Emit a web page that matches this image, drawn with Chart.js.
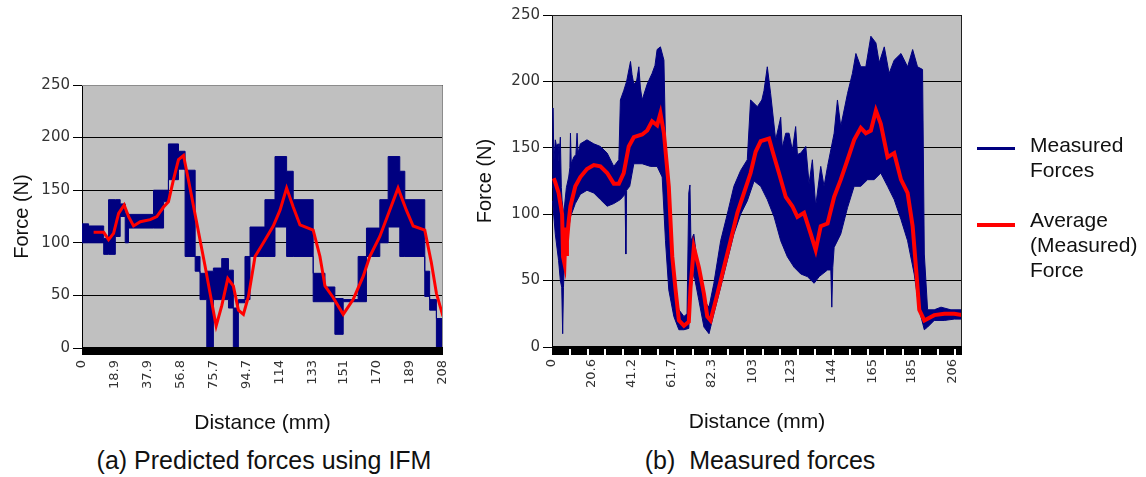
<!DOCTYPE html>
<html lang="en">
<head>
<meta charset="utf-8" />
<title>Predicted and measured forces</title>
<style>
  body { margin: 0; background: #fff; font-family: "Liberation Sans", Arial, sans-serif; color: #111; }
  .page { position: relative; width: 1146px; height: 477px; overflow: hidden; }
  .box { position: absolute; }
  #boxA { left: 0; top: 60px; width: 460px; height: 380px; }
  #boxB { left: 460px; top: 0; width: 520px; height: 440px; }
  .caption { position: absolute; top: 445px; font-size: 25px; line-height: 30px; white-space: pre; transform: translateX(-50%); }
  .swatch { position: absolute; left: 977px; width: 38px; }
  .legend-text { position: absolute; left: 1030px; font-size: 21px; line-height: 25px; }
</style>
</head>
<body>
<div class="page">
  <div class="box" id="boxA"><canvas id="chartA"></canvas></div>
  <div class="box" id="boxB"><canvas id="chartB"></canvas></div>

  <div class="swatch" style="top:147px;height:3px;background:#000080"></div>
  <div class="legend-text" style="top:132px">Measured<br>Forces</div>
  <div class="swatch" style="top:223px;height:4px;background:#ff0000"></div>
  <div class="legend-text" style="top:207px">Average<br>(Measured)<br>Force</div>

  <div class="caption" style="left:264px">(a) Predicted forces using IFM</div>
  <div class="caption" style="left:760px">(b)  Measured forces</div>
</div>

<script src="https://cdn.jsdelivr.net/npm/chart.js"></script>
<script>
    const forceMax = 250;

    // (a) predicted forces: stepped band (start of each step, upper/lower level) and its average
    const distTicksA = ['0', '18.9', '37.9', '56.8', '75.7', '94.7', '114', '133', '151', '170', '189', '208'];
    const stepDistA = [0, 3.8, 12.5, 15.3, 19.2, 22, 24.9, 26.8, 41.2, 47, 49.8, 55.6, 59.4, 65.2, 68,
        71.9, 75.7, 80.5, 84.4, 87.2, 90.1, 93.9, 96.8, 105.4, 111.2, 117.9, 121.7, 133.2, 140, 145.7,
        150.5, 159.1, 163.9, 171.6, 176.4, 183.1, 186, 197.5, 200.3, 204.2, 208];
    const stepUpperA = [118, 116, 104, 141, 141, 137, 128, 127, 150, 150, 194, 187, 169, 87, 71,
        73, 76, 85, 74, 38, 46, 87, 115, 141, 182, 168, 141, 71, 58, 47,
        46, 87, 114, 141, 182, 168, 141, 73, 46, 28, 28];
    const stepLowerA = [100, 100, 89, 89, 106, 125, 100, 114, 114, 139, 160, 170, 87, 73, 46,
        0, 46, 46, 38, 0, 43, 46, 87, 87, 115, 87, 87, 44, 44, 13,
        44, 44, 87, 100, 115, 87, 87, 49, 36, 0, 0];
    const avgDistA = [6.7, 12.5, 15.3, 18.2, 21.1, 24.3, 26.8, 29.7, 33.6, 39.3, 43.1, 47, 49.8, 52.7, 55.6,
        58.5, 61.3, 66.1, 70.9, 74.8, 77.3, 80.5, 84, 87.2, 90.1, 93, 95.9, 99.7, 104.5, 110.2,
        114.1, 117.9, 121.7, 125.6, 133.2, 137.1, 140, 144.7, 150.5, 156.2, 162, 165.8, 171.6, 177.3, 182.1,
        186.9, 190.8, 197.5, 201.3, 204.2, 208];
    const avgForceA = [110, 110, 103, 109, 128, 136, 125, 116, 120, 122, 125, 134, 139, 160, 179,
        183, 160, 119, 78, 43, 21, 40, 66, 59, 36, 32, 49, 87, 100, 116,
        131, 152, 134, 117, 112, 87, 59, 48, 32, 46, 68, 87, 106, 131, 152,
        131, 116, 112, 81, 52, 30];

    // (b) measured forces: envelope of the raw signal and the running average
    const distTicksB = ['0', '20.6', '41.2', '61.7', '82.3', '103', '123', '144', '165', '185', '206'];
    const upperDistB = [0.3, 0.5, 1.0, 1.7, 2.5, 3.1, 3.6, 4.3, 4.8, 5.2, 6.0, 7.4, 8.6, 9.2, 9.5,
        9.9, 11.2, 12.3, 12.9, 13.4, 14.6, 18.0, 21.5, 24.9, 28.4, 31.8, 34.4, 35.2, 36.9, 38.4,
        40.4, 41.2, 42.1, 43.5, 44.7, 45.5, 46.4, 49.0, 51.5, 53.0, 54.1, 55.8, 57.6, 58.4, 60.1,
        61.9, 63.6, 65.3, 67.9, 69.5, 70.4, 71.0, 71.5, 73.0, 75.6, 78.2, 80.8, 83.3, 86.8, 90.2,
        93.6, 97.1, 100.5, 102.2, 105.7, 108.0, 109.1, 110.8, 112.5, 115.1, 116.5, 117.7, 118.5, 120.3, 122.0,
        123.7, 125.4, 126.3, 128.0, 130.6, 132.3, 134.0, 135.7, 138.3, 140.0, 141.8, 145.2, 146.9, 148.6, 152.1,
        154.6, 156.4, 158.9, 161.5, 164.1, 166.7, 168.4, 171.0, 173.5, 176.1, 179.6, 183.0, 185.6, 188.1, 190.7,
        191.6, 193.3, 196.7, 200.2, 205.3, 211];
    const upperB = [120, 180, 140, 156, 150, 153, 140, 158, 120, 110, 100, 120, 128, 135, 161,
        138, 143, 145, 161, 146, 153, 156, 153, 151, 146, 136, 141, 186, 193, 200,
        215, 205, 198, 200, 211, 195, 186, 198, 206, 212, 224, 226, 216, 156, 110,
        73, 40, 28, 23, 25, 116, 122, 80, 85, 53, 35, 30, 48, 80, 100,
        121, 133, 141, 186, 181, 186, 193, 211, 191, 156, 165, 173, 150, 161, 161,
        148, 166, 145, 146, 151, 123, 141, 106, 136, 121, 136, 161, 186, 166, 191,
        206, 221, 211, 211, 234, 229, 214, 226, 206, 216, 221, 211, 224, 211, 209,
        70, 28, 28, 30, 28, 28];
    const lowerDistB = [0.3, 1.7, 3.4, 4.3, 5.0, 5.5, 5.9, 6.4, 7.7, 9.5, 12.0, 14.6, 18.0, 21.5, 24.9,
        28.4, 31.8, 35.2, 37.6, 38.0, 38.4, 40.0, 42.1, 46.4, 50.7, 54.1, 56.7, 58.4, 60.1, 62.7,
        65.3, 67.9, 70.4, 71.3, 73.0, 75.6, 78.2, 80.8, 83.3, 86.8, 90.2, 93.6, 97.1, 100.5, 104.0,
        107.4, 110.8, 114.3, 117.7, 121.1, 124.6, 128.0, 131.4, 134.9, 137.5, 141.8, 143.5, 144.0, 144.5, 145.2,
        148.6, 152.1, 155.5, 158.9, 162.4, 165.8, 169.2, 172.7, 176.1, 179.6, 183.0, 186.4, 189.0, 191.6, 193.3,
        196.7, 201.9, 207.0, 211];
    const lowerB = [110, 85, 65, 50, 45, 10, 45, 63, 80, 98, 108, 115, 118, 116, 111,
        106, 108, 111, 115, 70, 118, 121, 138, 138, 136, 136, 128, 80, 43, 23,
        13, 13, 14, 45, 55, 35, 15, 10, 25, 45, 65, 85, 100, 110, 125,
        121, 111, 98, 80, 68, 60, 55, 53, 48, 53, 58, 58, 30, 60, 75,
        85, 105, 121, 121, 126, 126, 131, 121, 111, 96, 80, 55, 28, 13, 15,
        20, 20, 21, 21];
    const avgDistB = [0.9, 1.7, 3.4, 5.2, 5.7, 6.4, 7.0, 7.4, 7.7, 8.6, 9.5, 12.0, 14.6, 18.0, 21.5,
        24.9, 28.4, 31.8, 34.4, 36.9, 39.5, 42.1, 46.4, 49.0, 51.5, 54.1, 55.8, 57.6, 60.1, 61.9,
        63.6, 65.3, 67.9, 70.4, 71.3, 73.0, 75.6, 78.2, 79.9, 81.6, 85.1, 88.5, 91.9, 95.4, 98.8,
        102.2, 104.8, 107.4, 111.7, 113.4, 116.8, 120.3, 123.7, 126.3, 129.7, 133.2, 135.7, 138.3, 141.8, 145.2,
        148.6, 152.1, 155.5, 158.9, 161.5, 164.1, 166.7, 169.2, 172.7, 176.1, 179.6, 183.0, 185.6, 187.3, 189.0,
        191.6, 196.7, 201.9, 207.0, 211];
    const avgForceB = [127, 124, 116, 100, 68, 63, 90, 70, 80, 95, 106, 121, 128, 134, 137,
        136, 131, 123, 123, 131, 151, 158, 160, 163, 170, 167, 176, 161, 121, 68,
        43, 20, 16, 19, 45, 75, 60, 40, 23, 20, 40, 60, 80, 101, 116,
        131, 147, 155, 157, 148, 131, 113, 106, 98, 101, 85, 73, 91, 93, 113,
        126, 141, 156, 165, 161, 163, 178, 168, 143, 146, 126, 116, 91, 60, 28,
        20, 24, 25, 25, 24];

    const navy = '#000080';
    const red = '#ff0000';

    const pts = (xs, ys) => xs.map((x, i) => ({ x, y: ys[i] }));

    // grey plot area, frame and the black category-tick strip under the x axis
    const plotFrame = {
        id: 'plotFrame',
        beforeDraw(chart) {
            const a = chart.chartArea, ctx = chart.ctx;
            ctx.save();
            ctx.fillStyle = '#c0c0c0';
            ctx.fillRect(a.left, a.top, a.right - a.left, a.bottom - a.top);
            ctx.restore();
        },
        afterDatasetsDraw(chart, args, opts) {
            const a = chart.chartArea, ctx = chart.ctx, xs = chart.scales.x;
            ctx.save();
            ctx.strokeStyle = opts.frameColor;
            ctx.lineWidth = 1;
            ctx.beginPath();
            ctx.moveTo(a.left, a.top + 0.5);
            ctx.lineTo(a.right - 0.5, a.top + 0.5);
            ctx.lineTo(a.right - 0.5, a.bottom);
            ctx.stroke();
            ctx.fillStyle = '#000';
            ctx.fillRect(a.left, a.bottom - 1, a.right - a.left, opts.band + 1);
            if (opts.notchStep) {
                ctx.fillStyle = '#fff';
                for (let v = opts.notchStep; v < xs.max; v += opts.notchStep) {
                    const px = Math.round(xs.getPixelForValue(v));
                    ctx.fillRect(px, a.bottom + 2, 2, opts.band - 2);
                }
            }
            ctx.restore();
        }
    };

    function buildOptions(cfg) {
        return {
            responsive: true,
            maintainAspectRatio: false,
            animation: false,
            layout: { padding: { top: cfg.padTop, right: cfg.padRight, left: 0, bottom: 0 } },
            plugins: {
                legend: { display: false },
                tooltip: { enabled: false },
                plotFrame: { frameColor: cfg.frameColor, band: cfg.band, notchStep: cfg.notchStep }
            },
            scales: {
                x: {
                    type: 'linear',
                    min: 0,
                    max: cfg.xMax,
                    afterFit: s => {
                        // rotated labels would otherwise push the plot edge inwards
                        s.height = cfg.xHeight;
                        s.paddingLeft = 0;
                        s.paddingRight = 0;
                    },
                    afterBuildTicks: s => { s.ticks = cfg.xTicks.map(t => ({ value: parseFloat(t) })); },
                    grid: { display: false, drawTicks: false },
                    border: { display: false },
                    ticks: {
                        autoSkip: false,
                        minRotation: 90,
                        maxRotation: 90,
                        padding: 12,
                        color: '#333',
                        font: { family: '"DejaVu Sans", sans-serif', size: 13 },
                        callback: (v, i) => cfg.xTicks[i]
                    },
                    title: {
                        display: true,
                        text: 'Distance (mm)',
                        color: '#111',
                        font: { size: 21 },
                        padding: { top: 0, bottom: cfg.xTitlePad }
                    }
                },
                y: {
                    min: 0,
                    max: forceMax,
                    afterFit: s => { s.width = cfg.yWidth; },
                    grid: { color: '#000', lineWidth: 1, tickLength: 9, tickColor: '#000' },
                    border: { display: true, color: '#000', width: 1 },
                    ticks: {
                        stepSize: 50,
                        padding: 3,
                        color: '#333',
                        font: { family: '"DejaVu Sans", sans-serif', size: 15 }
                    },
                    title: {
                        display: true,
                        text: 'Force (N)',
                        color: '#111',
                        font: { size: 20 },
                        padding: { top: cfg.yTitlePad, bottom: 0 }
                    }
                }
            }
        };
    }

    Chart.defaults.font.family = '"Liberation Sans", Arial, sans-serif';

    new Chart(document.getElementById('chartA'), {
        type: 'line',
        data: {
            datasets: [
                {
                    label: 'Average force',
                    data: pts(avgDistA, avgForceA),
                    borderColor: red,
                    borderWidth: 3,
                    pointRadius: 0,
                    fill: false
                },
                {
                    label: 'Predicted (upper)',
                    data: pts(stepDistA, stepUpperA),
                    stepped: 'before',
                    borderColor: navy,
                    borderWidth: 1,
                    pointRadius: 0,
                    fill: false
                },
                {
                    label: 'Predicted (lower)',
                    data: pts(stepDistA, stepLowerA),
                    stepped: 'before',
                    borderColor: navy,
                    borderWidth: 1,
                    backgroundColor: navy,
                    pointRadius: 0,
                    fill: '-1'
                }
            ]
        },
        options: buildOptions({
            xMax: 208, xTicks: distTicksA, padTop: 25, padRight: 17,
            xHeight: 92, yWidth: 82, xTitlePad: 4, yTitlePad: 10,
            frameColor: '#8c8c8c', band: 7, notchStep: 0
        }),
        plugins: [plotFrame]
    });

    new Chart(document.getElementById('chartB'), {
        type: 'line',
        data: {
            datasets: [
                {
                    label: 'Average (Measured) Force',
                    data: pts(avgDistB, avgForceB),
                    borderColor: red,
                    borderWidth: 4,
                    pointRadius: 0,
                    fill: false
                },
                {
                    label: 'Measured Forces (upper)',
                    data: pts(upperDistB, upperB),
                    borderColor: navy,
                    borderWidth: 1,
                    pointRadius: 0,
                    fill: false
                },
                {
                    label: 'Measured Forces (lower)',
                    data: pts(lowerDistB, lowerB),
                    borderColor: navy,
                    borderWidth: 1,
                    backgroundColor: navy,
                    pointRadius: 0,
                    fill: '-1'
                }
            ]
        },
        options: buildOptions({
            xMax: 211, xTicks: distTicksB, padTop: 15, padRight: 18,
            xHeight: 93, yWidth: 92, xTitlePad: 5, yTitlePad: 13,
            frameColor: '#202020', band: 8, notchStep: 9
        }),
        plugins: [plotFrame]
    });
</script>
</body>
</html>
